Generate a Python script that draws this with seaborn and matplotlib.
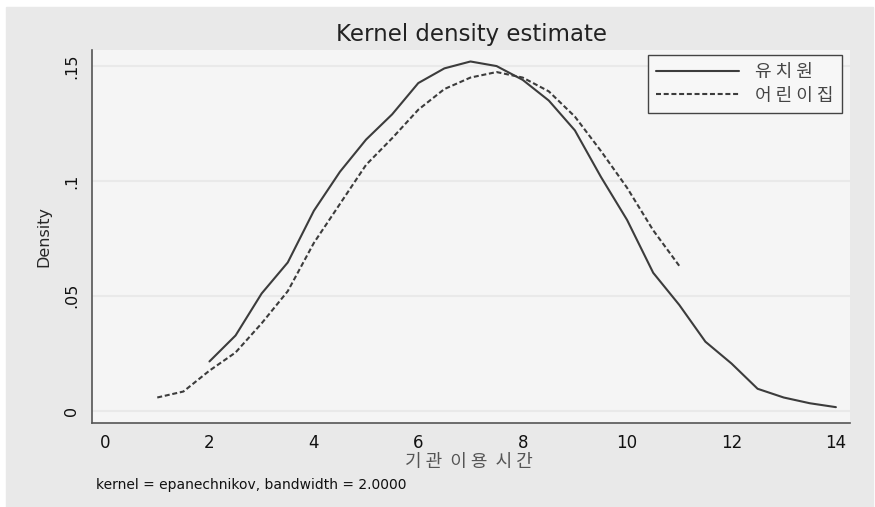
import numpy as np
import pandas as pd
import matplotlib
matplotlib.use('Agg')
import matplotlib.pyplot as plt
import seaborn as sns

# density estimates
x_kinder = [2, 2.5, 3, 3.5, 4, 4.5, 5, 5.5, 6, 6.5, 7, 7.5, 8, 8.5, 9, 9.5,
            10, 10.5, 11, 11.5, 12, 12.5, 13, 13.5, 14]
y_kinder = [0.0214, 0.0327, 0.051, 0.0645, 0.087, 0.104, 0.118, 0.129, 0.1426,
            0.149, 0.152, 0.150, 0.144, 0.135, 0.122, 0.1017, 0.083, 0.060,
            0.046, 0.030, 0.0205, 0.0095, 0.0057, 0.0032, 0.0015]

x_daycare = [1, 1.5, 2, 2.5, 3, 3.5, 4, 4.5, 5, 5.5, 6, 6.5, 7, 7.5, 8, 8.5,
             9, 9.5, 10, 10.5, 11]
y_daycare = [0.0057, 0.0083, 0.0174, 0.0253, 0.038, 0.052, 0.073, 0.090, 0.107,
             0.1186, 0.131, 0.140, 0.145, 0.1474, 0.145, 0.139, 0.128, 0.113,
             0.097, 0.0785, 0.063]

labels = ['유치원', '어린이집']

df = pd.concat([
    pd.DataFrame({'x': x_kinder, 'density': y_kinder, 'group': labels[0]}),
    pd.DataFrame({'x': x_daycare, 'density': y_daycare, 'group': labels[1]}),
])

sns.set_style('white')
plt.rcParams['font.family'] = ['DejaVu Sans', 'Noto Sans CJK KR']
kr = ['Noto Sans CJK KR', 'DejaVu Sans']

fig = plt.figure(figsize=(8.75, 5.07), dpi=100)
fig.patch.set_facecolor('white')
# stata's gray graph region
bg = plt.Rectangle((6 / 875, 0), 867 / 875, 1 - 7 / 507,
                   transform=fig.transFigure, color='#e9e9e9', zorder=-10)
fig.patches.append(bg)

ax = fig.add_axes([92 / 875, 1 - 423 / 507, 758 / 875, 373 / 507])
ax.set_zorder(1)
ax.set_facecolor('#f5f5f5')

sns.lineplot(data=df, x='x', y='density', style='group', color='#3c3c3c',
             dashes={labels[0]: '', labels[1]: (2.4, 1.3)}, linewidth=1.5,
             ax=ax, legend=False, sort=False)

ax.set_xlim(-0.25, 14.27)
ax.set_ylim(-0.0054, 0.157)
ax.set_xticks(range(0, 15, 2))
ax.set_yticks([0, 0.05, 0.1, 0.15])
ax.set_yticklabels(['0', '.05', '.1', '.15'], rotation=90, va='center')
ax.tick_params(axis='both', labelsize=12, length=6, width=1, color='#555555',
               labelcolor='#111111')
ax.tick_params(axis='x', pad=2)
ax.tick_params(axis='y', labelsize=11.5)
ax.grid(axis='y', color='#e9e9e9', linewidth=1.5)
ax.set_axisbelow(True)

for side in ['top', 'right']:
    ax.spines[side].set_visible(False)
for side in ['left', 'bottom']:
    ax.spines[side].set_color('#555555')
    ax.spines[side].set_linewidth(1.2)

ax.set_ylabel('Density', fontsize=11.5, labelpad=9)
ax.set_xlabel('')
fig.text(469 / 875, 1 - 462 / 507, '기 관  이 용  시 간', ha='center', va='center',
         fontsize=13, color='#555555', family=kr)
fig.text(471 / 875, 1 - 34 / 507, 'Kernel density estimate', ha='center', va='center',
         fontsize=16.5, color='#222222')
fig.text(96 / 875, 1 - 485 / 507, 'kernel = epanechnikov, bandwidth = 2.0000',
         ha='left', va='center', fontsize=10, color='#111111')

handles = ax.get_lines()[:2]
leg = ax.legend(handles, ['유 치 원', '어 린 이 집'], loc='upper right',
                bbox_to_anchor=(842 / 875, 1 - 55 / 507), bbox_transform=fig.transFigure,
                borderaxespad=0, frameon=True, fancybox=False, handlelength=4.6,
                borderpad=0.45, labelspacing=0.3, handletextpad=0.9,
                prop={'family': kr, 'size': 13})
leg.get_frame().set_edgecolor('#444444')
leg.get_frame().set_facecolor('#f7f7f7')
leg.get_frame().set_linewidth(1)
leg.get_frame().set_alpha(1)
for t in leg.get_texts():
    t.set_color('#444444')

fig.savefig('out.png', dpi=100, facecolor=fig.get_facecolor())
